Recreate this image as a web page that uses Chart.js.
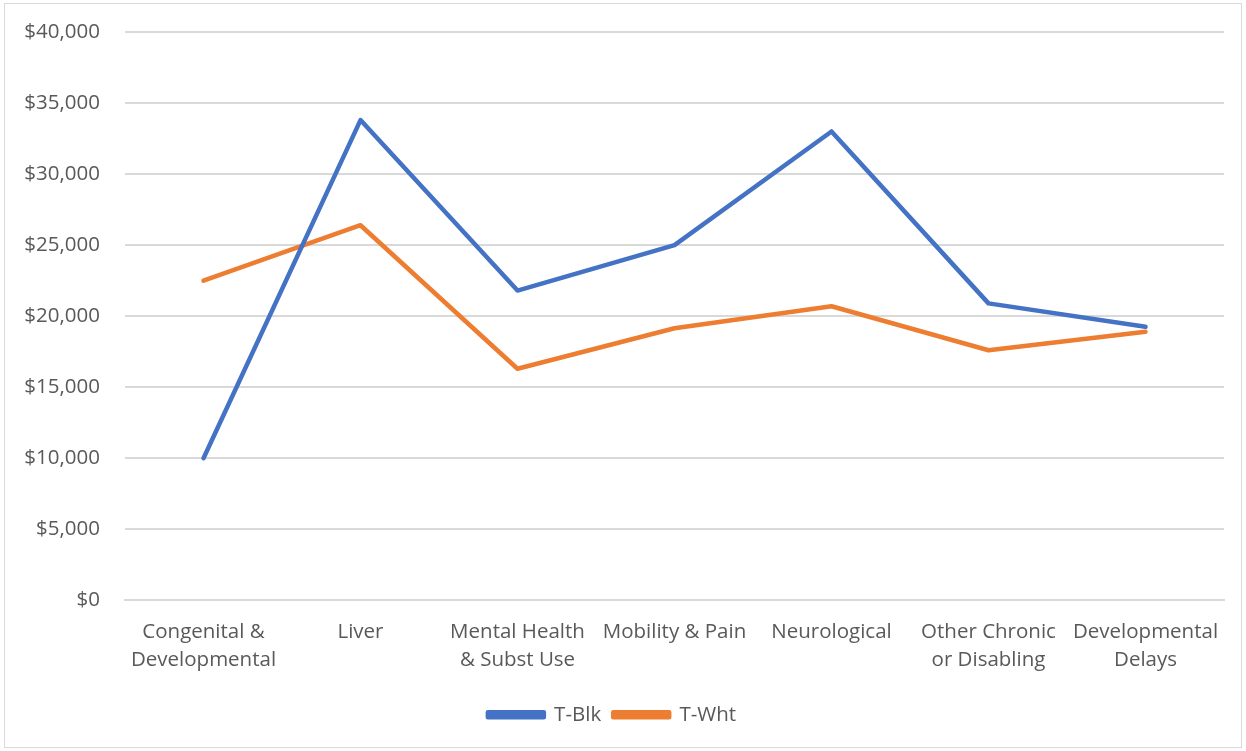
<!DOCTYPE html>
<html>
<head>
<meta charset="utf-8">
<script src="https://cdn.jsdelivr.net/npm/chart.js@4/dist/chart.umd.min.js"></script>
<style>
  body { margin: 0; background: #fff; }
  #wrap { position: absolute; left: 0; top: 0; width: 1246px; height: 751px; }
</style>
</head>
<body>
<div id="wrap"><canvas id="myChart" width="1246" height="751"></canvas></div>
<script>
// categories along the x axis (multi-line labels)
var categories = [
  ["Congenital &", "Developmental"],
  "Liver",
  ["Mental Health", "& Subst Use"],
  "Mobility & Pain",
  "Neurological",
  ["Other Chronic", "or Disabling"],
  ["Developmental", "Delays"]
];
var t_blk = [10000, 33800, 21800, 25000, 33000, 20900, 19250];
var t_wht = [22500, 26400, 16300, 19150, 20700, 17600, 18900];
var y_ticks = [0, 5000, 10000, 15000, 20000, 25000, 30000, 35000, 40000];

// light frame around the whole picture
var frame = {
  id: 'frame',
  beforeDraw: function(chart) {
    var c = chart.ctx;
    c.save();
    c.fillStyle = '#ffffff';
    c.fillRect(0, 0, chart.width, chart.height);
    c.strokeStyle = '#d9d9d9';
    c.lineWidth = 1;
    c.strokeRect(4.5, 3.5, 1237, 744);
    c.restore();
  }
};

var ctx = document.getElementById("myChart");
var myChart = new Chart(ctx, {
  type: 'line',
  plugins: [frame],
  data: {
    labels: categories,
    datasets: [{
      label: 'T-Blk',
      data: t_blk,
      borderColor: '#4472C4',
      backgroundColor: '#4472C4',
      borderWidth: 4.5,
      pointRadius: 0,
      tension: 0,
      borderCapStyle: 'round',
      borderJoinStyle: 'round'
    }, {
      label: 'T-Wht',
      data: t_wht,
      borderColor: '#ED7D31',
      backgroundColor: '#ED7D31',
      borderWidth: 4.5,
      pointRadius: 0,
      tension: 0,
      borderCapStyle: 'round',
      borderJoinStyle: 'round'
    }]
  },
  options: {
    responsive: false,
    animation: false,
    layout: { padding: { left: 0, right: 22, top: 32, bottom: 16 } },
    plugins: {
      tooltip: { enabled: false },
      legend: {
        position: 'bottom',
        labels: {
          boxWidth: 56,
          boxHeight: 5,
          color: '#595959',
          padding: 12,
          font: { family: 'Open Sans', size: 20.5 }
        }
      }
    },
    scales: {
      x: {
        offset: true,
        grid: { display: false, drawTicks: false },
        border: { display: true, color: '#d9d9d9', width: 2 },
        ticks: {
          color: '#595959',
          padding: 18,
          maxRotation: 0,
          autoSkip: false,
          font: { family: 'Open Sans', size: 20.5, lineHeight: 1.37 }
        }
      },
      y: {
        min: 0,
        max: 40000,
        afterFit: function(scale) { scale.width = 125; },
        afterBuildTicks: function(scale) {
          scale.ticks = y_ticks.map(function(v) { return { value: v }; });
        },
        grid: { color: '#d9d9d9', lineWidth: 2, drawTicks: true, tickLength: 17, tickColor: 'rgba(0,0,0,0)' },
        border: { display: false },
        ticks: {
          color: '#595959',
          padding: 8,
          font: { family: 'Open Sans', size: 20.5 },
          callback: function(v) { return '$' + v.toLocaleString('en-US'); }
        }
      }
    }
  }
});
</script>
</body>
</html>
